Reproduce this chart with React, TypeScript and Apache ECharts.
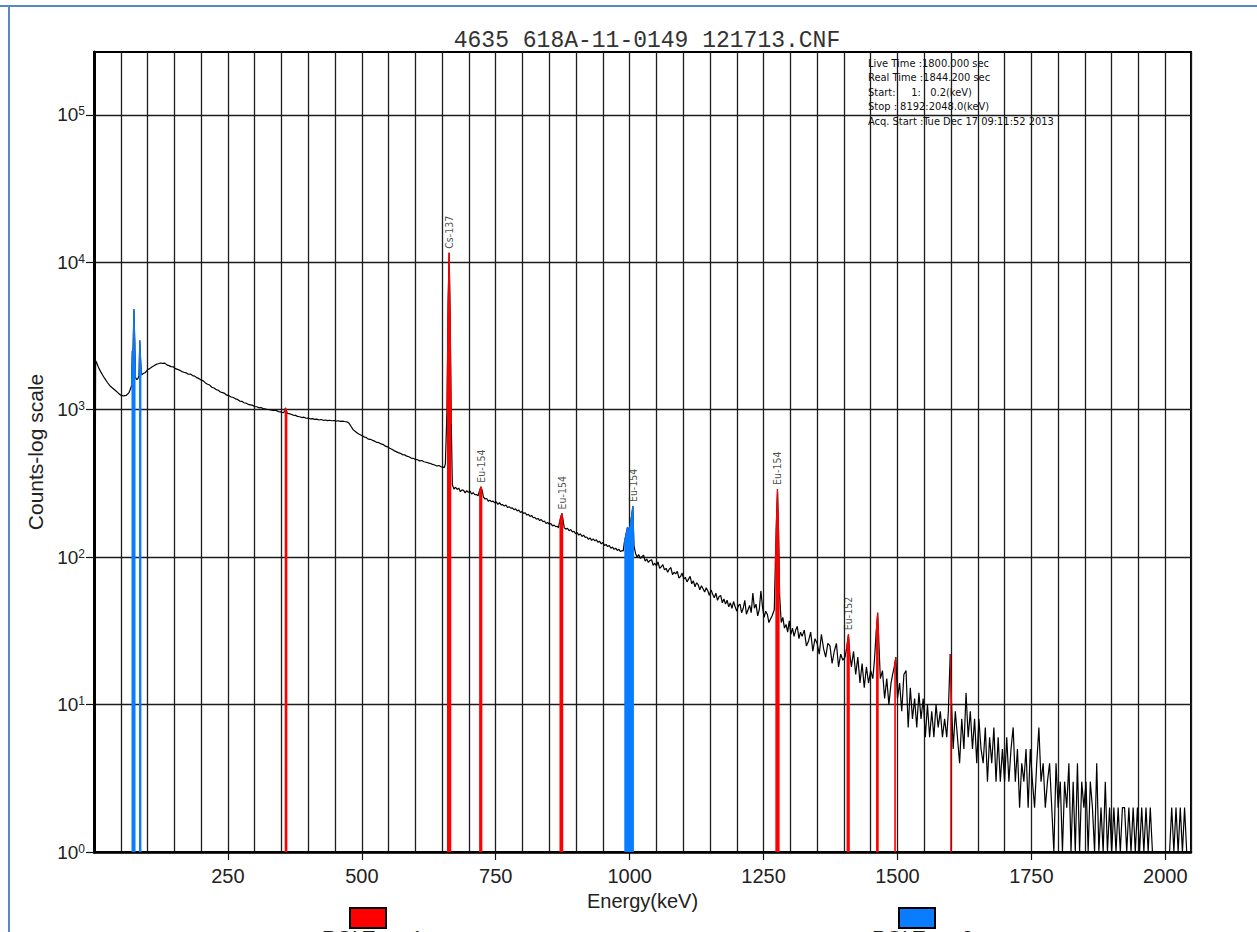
import React, { useEffect, useRef } from 'react';
import * as echarts from 'echarts';

// ---------- texts ----------
const TITLE = '4635 618A-11-0149 121713.CNF';
const INFO_LINES = [
  'Live Time :1800.000 sec',
  'Real Time :1844.200 sec',
  'Start:     1:   0.2(keV)',
  'Stop : 8192:2048.0(keV)',
  'Acq. Start :Tue Dec 17 09:11:52 2013',
];
const X_NAME = 'Energy(keV)';
const Y_NAME = 'Counts-log scale';
const LEGEND_NAMES = ['ROI Type 1', 'ROI Type 2'];

// ---------- axes ----------
const X_MIN = 0;
const X_MAX = 2048;
const X_TICKS = [250, 500, 750, 1000, 1250, 1500, 1750, 2000];
const Y_DECADES = [0, 1, 2, 3, 4, 5];
const Y_MAX_COUNTS = 267000;

// ---------- spectrum (energy keV, counts) ----------
const spectrumLow: [number, number][] = [
  [0.2, 1], [1.5, 1], [3, 2150], [5, 2080], [8, 1950], [12, 1820], [16, 1720], [20, 1630], [25, 1530],
  [30, 1450], [35, 1400], [40, 1350], [45, 1300], [50, 1255], [55, 1240], [60, 1250], [65, 1300],
  [68, 1380], [70, 1450], [71.5, 2480], [73, 2600], [74.5, 4800], [76, 3000], [77.5, 1650], [80, 1600],
  [82.5, 1640], [84, 1700], [85.5, 2950], [87, 2200], [88.5, 1720], [92, 1760], [96, 1790], [100, 1865],
  [104, 1900], [108, 1950], [112, 1985], [116, 2030], [120, 2050], [124, 2075], [128, 2060], [132, 2070],
  [136, 2015], [140, 1990], [144, 1960], [148, 1955], [152, 1900], [156, 1880], [160, 1850], [164, 1815],
  [168, 1795], [172, 1780], [176, 1740], [180, 1745], [184, 1705], [188, 1690], [192, 1650], [196, 1625],
  [200, 1590], [204, 1570], [208, 1520], [212, 1490], [216, 1470], [220, 1420], [224, 1405], [228, 1370],
  [232, 1355], [236, 1320], [240, 1305], [244, 1290], [248, 1255], [252, 1245], [256, 1220], [260, 1210],
  [264, 1185], [268, 1175], [272, 1145], [276, 1140], [280, 1115], [284, 1108], [288, 1088], [292, 1080],
  [296, 1070], [300, 1052], [304, 1048], [308, 1030], [312, 1035], [316, 1015], [320, 1012], [324, 1004],
  [328, 1000], [332, 995], [336, 988], [340, 990], [344, 972], [348, 968], [352, 958], [354, 955],
  [356, 985], [357.5, 1030], [359, 990], [361, 945], [364, 940], [368, 932], [372, 920], [376, 915],
  [380, 902], [384, 896], [388, 885], [392, 890], [396, 875], [400, 878], [404, 866], [408, 870],
  [412, 860], [416, 864], [420, 852], [424, 858], [428, 848], [432, 852], [436, 843], [440, 848],
  [444, 842], [448, 845], [452, 838], [456, 842], [460, 834], [464, 838], [468, 832], [472, 828],
  [476, 812], [480, 770], [484, 730], [488, 712], [492, 692], [496, 680], [500, 668], [504, 655],
  [508, 648], [512, 632], [516, 630], [520, 620], [524, 612], [528, 600], [532, 598], [536, 586],
  [540, 580], [544, 566], [548, 560], [552, 548], [556, 540], [560, 528], [564, 520], [568, 512],
  [572, 506], [576, 496], [580, 494], [584, 484], [588, 480], [592, 470], [596, 468], [600, 460],
  [604, 458], [608, 450], [612, 452], [616, 444], [620, 440], [624, 436], [628, 432], [632, 426],
  [636, 422], [640, 415], [644, 418], [648, 410], [652, 408], [654, 405],
];

const spectrumMid: [number, number][] = [
  [656, 430], [659, 1000], [661, 5200], [663, 11600], [665, 4200], [667, 800], [669, 310], [672, 290],
  [675, 298], [678, 288], [681, 294], [684, 278], [687, 286], [690, 284], [693, 273], [696, 283],
  [699, 275], [702, 281], [705, 268], [708, 274], [711, 265], [714, 266], [717, 261], [719, 276],
  [720.5, 288], [722.5, 300], [725, 280], [727, 255], [730, 248], [733, 250], [736, 240], [739, 243],
  [742, 238], [745, 240], [748, 234], [751, 237], [754, 228], [757, 234], [760, 226], [763, 227],
  [766, 222], [769, 226], [772, 217], [775, 220], [778, 215], [781, 216], [784, 210], [787, 213],
  [790, 206], [793, 209], [796, 201], [799, 204], [802, 198], [805, 200], [808, 193], [811, 195],
  [814, 189], [817, 192], [820, 185], [823, 186], [826, 181], [829, 183], [832, 177], [835, 180],
  [838, 174], [841, 176], [844, 169], [847, 172], [850, 167], [853, 169], [856, 163], [859, 165],
  [862, 161], [865, 162], [867, 158], [869, 172], [871, 185], [873.5, 198], [876, 175], [878, 158],
  [881, 155], [884, 157], [887, 151], [890, 154], [893, 148], [896, 150], [899, 144], [902, 147],
  [905, 141], [908, 144], [911, 138], [914, 141], [917, 136], [920, 137], [923, 132], [926, 135],
  [929, 130], [932, 133], [935, 129], [938, 131], [941, 126], [944, 128], [947, 123], [950, 126],
  [953, 120], [956, 122], [959, 118], [962, 120], [965, 115], [968, 117], [971, 113], [974, 115],
  [977, 111], [980, 113], [983, 109], [986, 111], [988, 110], [990, 125], [993, 142], [996, 160],
  [999, 150], [1002, 175], [1004, 195], [1006, 222], [1008, 120], [1011, 106], [1014, 100], [1017, 104],
  [1020, 98], [1023, 101], [1026, 103], [1029, 94], [1032, 97], [1035, 92], [1038, 95], [1041, 96],
  [1044, 88], [1047, 91], [1050, 87], [1053, 93], [1056, 84], [1059, 86], [1062, 89], [1065, 82],
  [1068, 84], [1071, 79], [1074, 83], [1077, 85], [1080, 76], [1083, 79], [1086, 77], [1089, 80],
  [1092, 72], [1095, 74], [1098, 78], [1101, 71], [1104, 73], [1107, 68], [1110, 71], [1113, 74],
  [1116, 66], [1119, 69], [1122, 63], [1125, 67], [1128, 65], [1131, 60], [1134, 64], [1137, 61],
  [1140, 58], [1143, 62], [1146, 59], [1149, 55], [1152, 60], [1155, 56], [1158, 53], [1161, 57],
  [1164, 51], [1167, 54], [1170, 55], [1173, 49], [1176, 52], [1179, 48], [1182, 51], [1185, 46],
  [1188, 49], [1191, 45], [1194, 50], [1197, 46], [1200, 43], [1203, 47], [1206, 48], [1209, 42],
  [1212, 45], [1215, 51], [1218, 41], [1221, 44], [1224, 47], [1227, 42], [1230, 57], [1233, 45],
  [1236, 48], [1239, 40], [1242, 44], [1245, 59], [1248, 46], [1251, 39], [1254, 43], [1257, 41],
  [1260, 36], [1263, 38], [1266, 40], [1270, 44], [1272, 90], [1274, 175], [1276, 290], [1278, 150],
  [1280, 55], [1283, 36], [1286, 39], [1289, 33], [1292, 35], [1295, 31], [1298, 37], [1301, 30],
  [1304, 33], [1307, 29], [1310, 32], [1313, 34], [1316, 28], [1319, 31],
];

const spectrumHigh: [number, number][] = [
  [1322, 29], [1326, 32], [1330, 25], [1334, 27], [1338, 31], [1342, 23], [1346, 28], [1350, 26],
  [1354, 22], [1358, 30], [1362, 24], [1366, 21], [1370, 26], [1374, 25], [1378, 19], [1382, 23],
  [1386, 26], [1390, 18], [1394, 22], [1398, 20], [1402, 21], [1405, 24], [1408.5, 30], [1411, 22],
  [1414, 18], [1418, 23], [1422, 16], [1426, 21], [1430, 14], [1434, 19], [1438, 13], [1442, 18],
  [1446, 14], [1450, 17], [1454, 15], [1457, 20], [1460, 30], [1463, 42], [1465, 28], [1468, 15],
  [1472, 17], [1476, 11], [1480, 15], [1484, 10], [1488, 14], [1491, 16], [1494, 18], [1497, 21],
  [1500, 11], [1504, 14], [1508, 9], [1512, 16], [1516, 17], [1520, 7], [1524, 13], [1528, 8],
  [1532, 11], [1536, 7], [1540, 12], [1544, 8], [1548, 11], [1552, 6], [1556, 10], [1560, 6],
  [1564, 9], [1568, 6], [1572, 10], [1576, 7], [1580, 9], [1584, 6], [1588, 8], [1592, 6],
  [1595, 9], [1598.5, 22], [1601, 10], [1604, 5], [1608, 9], [1612, 6], [1616, 4], [1620, 8],
  [1624, 5], [1628, 12], [1632, 6], [1636, 9], [1640, 5], [1644, 8], [1648, 4], [1652, 8],
  [1656, 5], [1660, 4], [1664, 7], [1668, 3], [1672, 6], [1676, 4], [1680, 7], [1684, 3],
  [1688, 6], [1692, 3], [1696, 5], [1700, 3], [1704, 6], [1708, 3], [1712, 5], [1716, 7],
  [1720, 3], [1724, 5], [1728, 2], [1732, 4], [1736, 3], [1740, 5], [1744, 2], [1748, 5],
  [1752, 3], [1756, 2], [1760, 4], [1764, 7], [1768, 3], [1772, 4], [1776, 2], [1780, 3],
  [1784, 4], [1788, 2], [1792, 1], [1796, 4], [1800, 2], [1804, 3], [1808, 1], [1812, 3],
  [1816, 2], [1820, 4], [1824, 1], [1828, 3], [1832, 1], [1836, 4], [1840, 1], [1844, 3],
  [1848, 2], [1852, 3], [1856, 1], [1860, 3], [1864, 2], [1868, 1], [1872, 4], [1876, 1],
  [1880, 2], [1884, 1], [1888, 3], [1892, 1], [1896, 2], [1900, 1], [1904, 2], [1908, 1],
  [1912, 2], [1916, 1], [1920, 2], [1924, 2], [1928, 1], [1932, 2], [1936, 1], [1940, 2],
  [1944, 1], [1948, 2], [1952, 1], [1956, 2], [1960, 1], [1964, 2], [1968, 1], [1972, 2],
  [1976, 1], [1984, 1], [1994, 1], [2004, 1], [2008, 1], [2012, 2], [2016, 1], [2020, 2],
  [2024, 1], [2028, 2], [2032, 1], [2036, 2], [2040, 1], [2044, 1], [2048, 1],
];

// ---------- ROIs (energy ranges, keV) ----------
const roiType1: [number, number][] = [
  [355, 361], [658, 668], [719, 726], [869, 877], [1271, 1280], [1405, 1411], [1459, 1466], [1493, 1499], [1596, 1601],
];
const roiType2: [number, number][] = [
  [70, 77.5], [84, 88.5], [990, 1008],
];

// ---------- peak identifications ----------
const peakLabels: { energy: number; nuclide: string }[] = [
  { energy: 663, nuclide: 'Cs-137' },
  { energy: 722.5, nuclide: 'Eu-154' },
  { energy: 873.5, nuclide: 'Eu-154' },
  { energy: 1006, nuclide: 'Eu-154' },
  { energy: 1276, nuclide: 'Eu-154' },
  { energy: 1408.5, nuclide: 'Eu-152' },
];

const RED = '#ff0000';
const BLUE = '#0a7cff';
const GRID_COLOR = '#1c1c1c';
const AXIS_FONT = '"Liberation Sans Narrow", "Liberation Sans", sans-serif';
const SMALL_FONT = '"DejaVu Sans Condensed", "DejaVu Sans", sans-serif';

const spectrum = [...spectrumLow, ...spectrumMid, ...spectrumHigh];
const toLog = (c: number) => Math.log10(Math.max(c, 1));

function roiSeries(ranges: [number, number][], color: string, name: string) {
  return ranges.map(([lo, hi]) => ({
    type: 'line',
    name,
    xAxisIndex: 0,
    yAxisIndex: 0,
    data: spectrum.filter(([e]) => e >= lo && e <= hi).map(([e, c]) => [e, toLog(c)]),
    symbol: 'none',
    showSymbol: false,
    silent: true,
    z: 3,
    lineStyle: { color, width: 1 },
    areaStyle: { color, opacity: 1, origin: 'start' },
  }));
}

export default function App() {
  const ref = useRef<HTMLDivElement>(null);

  useEffect(() => {
    if (!ref.current) return;
    const chart = echarts.init(ref.current, null, { renderer: 'svg' });

    const labelData = peakLabels.map((p) => {
      const near = spectrum.filter(([e]) => Math.abs(e - p.energy) <= 0.01);
      const pt = near.length ? near[0] : [p.energy, 1];
      return { name: p.nuclide, value: [pt[0], toLog(pt[1])] };
    });

    const option: any = {
      animation: false,
      backgroundColor: '#ffffff',
      title: {
        text: TITLE,
        left: 642,
        top: 24,
        textAlign: 'center',
        textStyle: { fontFamily: '"Liberation Mono", monospace', fontSize: 23, fontWeight: 'normal', color: '#333' },
      },
      grid: {
        left: 94,
        top: 52,
        width: 1097,
        height: 800,
        show: true,
        borderColor: '#000',
        borderWidth: 2,
        backgroundColor: 'transparent',
      },
      xAxis: [
        {
          type: 'value',
          min: X_MIN,
          max: X_MAX,
          interval: 50,
          axisLine: { show: false },
          axisTick: { show: false },
          axisLabel: { show: false },
          splitLine: { show: true, lineStyle: { color: GRID_COLOR, width: 1.3 } },
        },
        {
          type: 'value',
          min: X_MIN,
          max: X_MAX,
          interval: 250,
          position: 'bottom',
          axisLine: { show: true, onZero: false, lineStyle: { color: '#000', width: 2.5 } },
          axisTick: { show: true, length: 8, customValues: X_TICKS, lineStyle: { color: '#111', width: 1.2 } },
          axisLabel: {
            show: true,
            customValues: X_TICKS,
            margin: 14,
            fontFamily: AXIS_FONT,
            fontSize: 20,
            color: '#222',
            formatter: (v: number) => (X_TICKS.indexOf(v) >= 0 ? String(v) : ''),
          },
          splitLine: { show: false },
          name: X_NAME,
          nameLocation: 'middle',
          nameGap: 33,
          nameTextStyle: { fontFamily: AXIS_FONT, fontSize: 20, color: '#222' },
        },
      ],
      yAxis: {
        type: 'value',
        min: 0,
        max: toLog(Y_MAX_COUNTS),
        interval: 1,
        axisLine: { show: true, onZero: false, lineStyle: { color: '#000', width: 3 } },
        axisTick: { show: true, length: 8, customValues: Y_DECADES, lineStyle: { color: '#111', width: 1.2 } },
        axisLabel: {
          customValues: Y_DECADES,
          margin: 9,
          formatter: (v: number) => (Y_DECADES.indexOf(v) >= 0 ? `{b|10}{s|${v}}` : ''),
          rich: {
            b: { fontFamily: AXIS_FONT, fontSize: 19, color: '#222' },
            s: { fontFamily: AXIS_FONT, fontSize: 12, color: '#222', verticalAlign: 'top' },
          },
        },
        splitLine: { show: true, lineStyle: { color: GRID_COLOR, width: 1.3 } },
        name: Y_NAME,
        nameLocation: 'middle',
        nameGap: 32,
        nameTextStyle: { fontFamily: AXIS_FONT, fontSize: 21, color: '#222' },
      },
      series: [
        {
          type: 'line',
          name: 'Spectrum',
          xAxisIndex: 0,
          yAxisIndex: 0,
          data: spectrum.map(([e, c]) => [e, toLog(c)]),
          symbol: 'none',
          showSymbol: false,
          silent: true,
          z: 2,
          lineStyle: { color: '#000', width: 1.2 },
        },
        ...roiSeries(roiType1, RED, LEGEND_NAMES[0]),
        ...roiSeries(roiType2, BLUE, LEGEND_NAMES[1]),
        {
          type: 'scatter',
          name: 'Peaks',
          xAxisIndex: 0,
          yAxisIndex: 0,
          data: labelData,
          symbolSize: 0,
          silent: true,
          z: 5,
          label: {
            show: true,
            formatter: '{b}',
            position: 'top',
            distance: 4,
            rotate: 90,
            align: 'left',
            verticalAlign: 'middle',
            fontFamily: SMALL_FONT,
            fontSize: 10.5,
            color: '#1a1a1a',
          },
        },
      ],
      graphic: [
        { type: 'line', shape: { x1: 0, y1: 6, x2: 1257, y2: 6 }, style: { stroke: '#5b86c6', lineWidth: 2 } },
        { type: 'line', shape: { x1: 9, y1: 6, x2: 9, y2: 932 }, style: { stroke: '#5b86c6', lineWidth: 2 } },
        {
          type: 'text',
          left: 868,
          top: 56,
          z: 10,
          style: { text: INFO_LINES.join('\n'), fontFamily: SMALL_FONT, fontSize: 11, lineHeight: 14.5, fill: '#111' },
        },
        { type: 'rect', shape: { x: 350, y: 908, width: 36, height: 20 }, style: { fill: RED, stroke: '#000', lineWidth: 2 } },
        { type: 'rect', shape: { x: 899, y: 908, width: 36, height: 20 }, style: { fill: BLUE, stroke: '#000', lineWidth: 2 } },
        { type: 'text', x: 322, y: 928, style: { text: LEGEND_NAMES[0], fontFamily: AXIS_FONT, fontSize: 20, fill: '#222' } },
        { type: 'text', x: 872, y: 928, style: { text: LEGEND_NAMES[1], fontFamily: AXIS_FONT, fontSize: 20, fill: '#222' } },
      ],
    };

    chart.setOption(option);
    return () => chart.dispose();
  }, []);

  return (
    <div
      ref={ref}
      style={{ position: 'absolute', left: 0, top: 0, width: 1257, height: 932, background: '#fff' }}
    />
  );
}
